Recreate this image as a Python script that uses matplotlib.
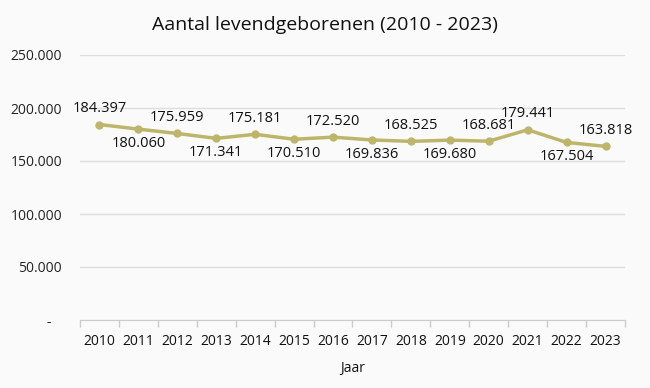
import matplotlib
matplotlib.use('agg')
import matplotlib.pyplot as plt
from matplotlib.ticker import FixedLocator, NullFormatter

plt.rcParams['font.family'] = ['Open Sans', 'DejaVu Sans']

years = ['2010', '2011', '2012', '2013', '2014', '2015', '2016', '2017',
         '2018', '2019', '2020', '2021', '2022', '2023']
births = [184397, 180060, 175959, 171341, 175181, 170510, 172520, 169836,
          168525, 169680, 168681, 179441, 167504, 163818]
label_pos = ['above', 'below', 'above', 'below', 'above', 'below', 'above',
             'below', 'above', 'below', 'above', 'above', 'below', 'above']
yticks = [0, 50000, 100000, 150000, 200000, 250000]


def fmt(v):
    if v == 0:
        return '-'
    return '{:,}'.format(v).replace(',', '.')


fig = plt.figure(figsize=(6.5, 3.88), dpi=100)
fig.patch.set_facecolor('#fafafa')
ax = fig.add_axes([80/650, 1-320/388, 545/650, 265/388])
ax.set_facecolor('#fafafa')

x = list(range(len(years)))
col = '#bdb66a'
ax.plot(x, births, color=col, linewidth=2.5, marker='o', markersize=5,
        solid_capstyle='round', zorder=3)

for xi, v, p in zip(x, births, label_pos):
    if p == 'above':
        ax.annotate(fmt(v), (xi, v), xytext=(0, 6), textcoords='offset points',
                    ha='center', va='bottom', fontsize=10.5, color='#111111')
    else:
        ax.annotate(fmt(v), (xi, v), xytext=(0, -5), textcoords='offset points',
                    ha='center', va='top', fontsize=10.5, color='#111111')

ax.set_xlim(-0.5, len(years) - 0.5)
ax.set_ylim(0, 250000)
ax.set_yticks(yticks)
ax.set_yticklabels([fmt(t) if t else '-   ' for t in yticks], fontsize=10, color='#222222')
ax.tick_params(axis='y', length=0, pad=13)
ax.yaxis.grid(True, color='#dddddd', linewidth=1)
ax.set_axisbelow(True)

ax.set_xticks(x)
ax.set_xticklabels(years, fontsize=10, color='#111111')
ax.tick_params(axis='x', which='major', length=0, pad=10)
ax.xaxis.set_minor_locator(FixedLocator([i - 0.5 for i in range(len(years) + 1)]))
ax.xaxis.set_minor_formatter(NullFormatter())
ax.tick_params(axis='x', which='minor', length=5, color='#cccccc', width=1)

for s in ['top', 'right', 'left']:
    ax.spines[s].set_visible(False)
ax.spines['bottom'].set_color('#cccccc')

ax.set_xlabel('Jaar', fontsize=10, color='#111111', labelpad=9)
fig.text(0.5, 0.935, 'Aantal levendgeborenen (2010 - 2023)', ha='center', va='center',
         fontsize=14, color='#111111')

fig.savefig('out.png', dpi=100, facecolor=fig.get_facecolor())
